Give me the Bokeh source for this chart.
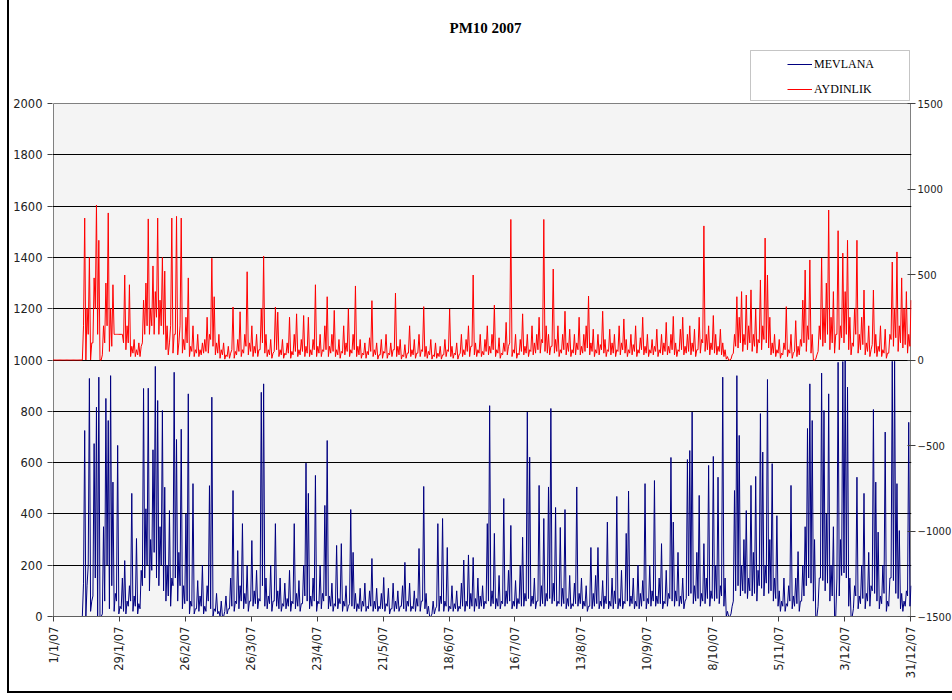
import numpy as np
from bokeh.plotting import figure
from bokeh.models import (Range1d, LinearAxis, FixedTicker, Label, Legend,
                          LegendItem, BoxAnnotation)
from bokeh.embed import file_html
from bokeh.resources import INLINE

title_text = "PM10 2007"
series_names = ["MEVLANA", "AYDINLIK"]
tick_days = [0, 28, 56, 84, 112, 140, 168, 196, 224, 252, 280, 308, 336, 364]
tick_labels = ["1/1/07", "29/1/07", "26/2/07", "26/3/07", "23/4/07", "21/5/07",
               "18/6/07", "16/7/07", "13/8/07", "10/9/07", "8/10/07", "5/11/07",
               "3/12/07", "31/12/07"]
left_ticks = [0, 200, 400, 600, 800, 1000, 1200, 1400, 1600, 1800, 2000]
right_ticks = [-1500, -1000, -500, 0, 500, 1000, 1500]

# MEVLANA, left axis: daily peak and daily trough, day 0 = 1 Jan 2007
mevlana_high = [
    0, 0, 0, 0, 0, 0, 0, 0, 0, 0,
    0, 0, 0, 725, 120, 928, 60, 674, 816, 933,
    0, 350, 850, 764, 939, 524, 90, 667, 40, 150,
    218, 60, 120, 480, 80, 304, 50, 180, 889, 420,
    890, 300, 650, 975, 842, 350, 803, 504, 200, 413,
    150, 952, 690, 250, 730, 120, 400, 868, 60, 518,
    30, 140, 80, 200, 40, 120, 510, 855, 30, 90,
    20, 60, 0, 80, 30, 150, 491, 60, 257, 120,
    362, 90, 200, 60, 296, 100, 180, 70, 874, 907,
    150, 80, 200, 60, 362, 100, 150, 50, 130, 70,
    180, 60, 362, 90, 140, 50, 200, 598, 480, 80,
    150, 550, 60, 200, 90, 433, 686, 80, 130, 50,
    277, 70, 284, 60, 120, 40, 417, 250, 90, 50,
    110, 60, 130, 40, 100, 226, 60, 110, 40, 90,
    152, 50, 110, 30, 130, 60, 100, 40, 120, 211,
    60, 130, 40, 100, 70, 265, 60, 507, 90, 40,
    0, 60, 30, 362, 80, 382, 60, 269, 40, 120,
    50, 100, 40, 130, 220, 60, 240, 90, 230, 70,
    150, 80, 120, 60, 362, 822, 100, 324, 70, 160,
    60, 460, 100, 180, 355, 60, 140, 70, 200, 309,
    90, 797, 621, 80, 150, 60, 511, 120, 382, 90,
    505, 811, 130, 425, 60, 347, 110, 417, 70, 160,
    50, 130, 505, 90, 150, 60, 120, 40, 269, 90,
    160, 269, 60, 140, 80, 368, 60, 150, 100, 468,
    70, 180, 60, 324, 489, 80, 150, 60, 200, 90,
    140, 518, 70, 200, 100, 530, 80, 150, 284, 60,
    180, 90, 620, 368, 100, 250, 80, 150, 60, 612,
    647, 797, 120, 250, 472, 90, 284, 150, 589, 100,
    624, 200, 543, 120, 933, 150, 20, 0, 40, 491,
    939, 706, 200, 300, 413, 150, 511, 250, 546, 180,
    791, 641, 200, 924, 300, 596, 150, 393, 100, 60,
    150, 50, 120, 511, 80, 150, 253, 60, 200, 350,
    733, 907, 764, 300, 0, 150, 949, 803, 400, 868,
    200, 350, 0, 991, 300, 994, 998, 894, 150, 0,
    120, 543, 80, 200, 480, 90, 250, 120, 807, 524,
    329, 80, 200, 719, 60, 150, 995, 995, 518, 335,
    90, 60, 100, 757, 120,
]
mevlana_low = [
    0, 0, 0, 0, 0, 0, 0, 0, 0, 0,
    0, 0, 0, 130, 0, 200, 20, 80, 150, 0,
    0, 10, 60, 200, 30, 120, 20, 60, 10, 30,
    20, 10, 40, 60, 20, 40, 10, 30, 120, 150,
    200, 100, 180, 250, 150, 120, 200, 100, 60, 80,
    40, 120, 150, 60, 120, 30, 50, 60, 10, 40,
    10, 30, 20, 40, 10, 20, 60, 30, 0, 20,
    10, 0, 0, 20, 10, 30, 40, 20, 50, 30,
    60, 30, 50, 20, 60, 40, 50, 30, 60, 120,
    40, 30, 50, 20, 60, 40, 30, 20, 40, 30,
    40, 20, 50, 30, 40, 20, 50, 80, 60, 30,
    40, 60, 20, 50, 30, 60, 80, 30, 40, 20,
    40, 30, 50, 20, 40, 20, 50, 40, 30, 20,
    30, 20, 40, 20, 30, 40, 20, 30, 20, 30,
    30, 20, 40, 10, 30, 20, 30, 20, 40, 30,
    20, 40, 20, 30, 20, 40, 20, 60, 30, 10,
    0, 10, 10, 40, 20, 50, 20, 40, 20, 30,
    20, 30, 20, 30, 40, 20, 40, 30, 40, 20,
    40, 30, 40, 30, 50, 60, 40, 50, 30, 40,
    30, 50, 40, 50, 60, 30, 40, 30, 50, 40,
    40, 60, 70, 40, 50, 30, 60, 40, 50, 40,
    60, 70, 50, 60, 40, 50, 40, 50, 30, 40,
    30, 40, 50, 40, 50, 30, 40, 20, 40, 30,
    40, 50, 30, 40, 30, 50, 30, 40, 30, 50,
    30, 40, 30, 50, 60, 40, 50, 30, 40, 30,
    40, 60, 30, 50, 40, 60, 40, 50, 50, 30,
    50, 40, 70, 60, 40, 60, 40, 50, 30, 70,
    80, 90, 50, 60, 70, 40, 60, 50, 70, 40,
    70, 60, 70, 50, 80, 40, 0, 0, 10, 60,
    100, 120, 80, 100, 90, 70, 100, 80, 90, 60,
    120, 110, 80, 130, 90, 100, 60, 70, 40, 20,
    40, 20, 40, 60, 30, 40, 50, 20, 60, 80,
    120, 150, 130, 60, 0, 40, 150, 140, 100, 130,
    60, 80, 0, 150, 80, 160, 170, 150, 40, 0,
    30, 80, 30, 50, 70, 30, 60, 40, 100, 90,
    60, 30, 50, 90, 20, 40, 150, 140, 90, 70,
    30, 20, 40, 80, 40,
]

# AYDINLIK, right axis: daily peak and daily trough
aydinlik_high = [
    0, 0, 0, 0, 0, 0, 0, 0, 0, 0,
    0, 0, 0, 830, 300, 600, 100, 480, 906, 700,
    0, 200, 450, 860, 300, 440, 150, 150, 150, 150,
    497, 200, 440, 80, 120, 60, 100, 80, 350, 450,
    825, 300, 550, 400, 830, 350, 600, 520, 200, 100,
    830, 150, 840, 100, 830, 120, 250, 480, 80, 200,
    60, 150, 60, 100, 120, 250, 150, 595, 370, 100,
    150, 60, 100, 30, 80, 40, 310, 50, 120, 282,
    60, 150, 516, 100, 200, 80, 150, 60, 300, 608,
    150, 60, 120, 40, 310, 280, 60, 120, 40, 100,
    250, 50, 150, 270, 60, 120, 260, 80, 250, 60,
    120, 440, 80, 150, 60, 200, 370, 80, 150, 290,
    60, 120, 50, 200, 100, 300, 60, 150, 433, 80,
    120, 40, 100, 50, 130, 347, 60, 100, 30, 120,
    50, 150, 40, 100, 60, 391, 80, 120, 30, 90,
    40, 200, 60, 120, 40, 150, 60, 312, 80, 50,
    120, 30, 100, 40, 80, 30, 120, 60, 298, 80,
    40, 100, 30, 150, 60, 120, 200, 80, 497, 100,
    60, 150, 50, 120, 200, 80, 150, 321, 60, 130,
    40, 100, 220, 80, 822, 60, 150, 40, 120, 270,
    80, 150, 60, 200, 100, 150, 250, 120, 822, 200,
    150, 80, 532, 120, 200, 60, 150, 285, 100, 180,
    60, 150, 100, 250, 80, 150, 200, 374, 100, 180,
    60, 150, 90, 285, 120, 60, 180, 100, 150, 60,
    200, 100, 240, 120, 60, 150, 90, 200, 60, 130,
    250, 80, 150, 60, 120, 80, 180, 60, 150, 100,
    220, 80, 150, 255, 100, 60, 180, 250, 80, 150,
    200, 100, 180, 60, 250, 120, 784, 150, 200, 100,
    260, 150, 80, 180, 100, 60, 20, 0, 30, 150,
    370, 250, 400, 150, 380, 200, 410, 150, 300, 120,
    468, 200, 713, 497, 250, 100, 150, 60, 120, 40,
    100, 312, 60, 150, 40, 230, 80, 120, 350, 526,
    200, 585, 150, 0, 30, 200, 596, 300, 450, 877,
    250, 400, 150, 756, 200, 625, 400, 700, 250, 100,
    300, 700, 150, 250, 409, 100, 200, 60, 409, 150,
    80, 200, 60, 180, 40, 150, 573, 300, 632, 200,
    480, 300, 400, 150, 350,
]
aydinlik_low = [
    0, 0, 0, 0, 0, 0, 0, 0, 0, 0,
    0, 0, 0, 200, 0, 150, 0, 100, 300, 150,
    0, 30, 100, 200, 50, 80, 150, 150, 150, 150,
    100, 60, 100, 20, 40, 20, 30, 20, 100, 150,
    200, 150, 200, 150, 250, 150, 200, 150, 60, 30,
    200, 40, 150, 30, 200, 40, 60, 100, 20, 50,
    20, 40, 20, 30, 40, 50, 40, 120, 80, 30,
    40, 10, 30, 5, 20, 10, 60, 10, 30, 50,
    20, 40, 80, 30, 50, 20, 40, 20, 60, 100,
    40, 20, 30, 10, 50, 60, 20, 30, 10, 30,
    40, 10, 30, 50, 20, 30, 50, 20, 40, 20,
    30, 60, 20, 40, 20, 50, 60, 20, 40, 50,
    20, 30, 10, 40, 30, 50, 20, 40, 60, 20,
    30, 10, 30, 10, 30, 50, 20, 30, 5, 30,
    10, 40, 10, 30, 20, 60, 20, 30, 5, 20,
    10, 40, 20, 30, 10, 40, 20, 50, 20, 10,
    30, 5, 20, 10, 20, 5, 30, 20, 50, 20,
    10, 30, 5, 40, 20, 30, 50, 20, 80, 30,
    20, 40, 20, 30, 50, 30, 40, 60, 20, 40,
    10, 30, 50, 30, 100, 20, 40, 10, 30, 50,
    30, 40, 20, 50, 30, 40, 60, 40, 100, 50,
    40, 30, 80, 40, 50, 20, 40, 60, 30, 50,
    20, 40, 30, 60, 30, 40, 50, 70, 30, 50,
    20, 40, 30, 60, 40, 20, 50, 30, 40, 20,
    50, 30, 60, 40, 20, 40, 30, 50, 20, 40,
    60, 30, 40, 20, 40, 30, 50, 20, 40, 30,
    50, 30, 40, 60, 30, 20, 50, 60, 30, 40,
    50, 30, 50, 20, 60, 40, 100, 50, 60, 30,
    60, 40, 30, 50, 30, 20, 5, 0, 5, 40,
    80, 70, 100, 50, 90, 60, 100, 50, 80, 40,
    100, 60, 120, 100, 70, 30, 40, 20, 40, 10,
    30, 60, 20, 40, 10, 50, 20, 30, 80, 100,
    50, 120, 40, 0, 5, 50, 120, 80, 100, 150,
    60, 100, 40, 150, 60, 130, 100, 150, 60, 30,
    80, 150, 40, 60, 90, 30, 50, 20, 90, 40,
    20, 50, 20, 40, 10, 40, 120, 80, 130, 50,
    100, 70, 90, 40, 80,
]


def interleave(low, high):
    """Each day: trough in the first half of the day, peak in the second."""
    n = min(len(low), len(high))
    xs = np.empty(2 * n)
    ys = np.empty(2 * n)
    xs[0::2] = np.arange(n) - 0.25
    xs[1::2] = np.arange(n) + 0.25
    ys[0::2] = low[:n]
    ys[1::2] = high[:n]
    return xs, ys


xm, ym = interleave(mevlana_low, mevlana_high)
xa, ya = interleave(aydinlik_low, aydinlik_high)

TICK_FONT = "DejaVu Sans"
SERIF = "Liberation Serif"

# geometry (pixels)
FRAME_W, PLOT_H, FRAME_H = 859, 513, 616
px_per_day = (FRAME_W - 2) / (tick_days[-1] - tick_days[0])
pad_days = 1.0 / px_per_day
y_top = left_ticks[-1] * FRAME_H / PLOT_H
r_span = right_ticks[-1] - right_ticks[0]
r_top = right_ticks[0] + r_span * FRAME_H / PLOT_H

p = figure(frame_width=FRAME_W, frame_height=FRAME_H,
           x_range=Range1d(tick_days[0] - pad_days, tick_days[-1] + pad_days),
           y_range=Range1d(0, y_top),
           output_backend="svg", toolbar_location=None,
           min_border_left=43, min_border_right=38,
           min_border_top=0, min_border_bottom=75,
           background_fill_color="white", border_fill_color="white",
           outline_line_color=None,
           styles={"margin-left": "7px",
                   "border-left": "2px solid black",
                   "border-bottom": "2px solid black"})
p.extra_y_ranges = {"right": Range1d(right_ticks[0], r_top)}

# plot area (grey panel with grey outline)
p.quad(left=[tick_days[0]], right=[tick_days[-1]], bottom=[left_ticks[0]],
       top=[left_ticks[-1]], fill_color="#F4F4F4", line_color="#808080",
       line_width=1, level="image")

r_blue = p.line(xm, ym, line_color="#000080", line_width=1)
r_red = p.line(xa, ya, line_color="#FF0000", line_width=1,
               y_range_name="right")

right_axis = LinearAxis(y_range_name="right", ticker=FixedTicker(ticks=right_ticks))
p.add_layout(right_axis, "right")

p.xgrid.visible = False
p.ygrid.ticker = FixedTicker(ticks=left_ticks[1:-1])
p.ygrid.grid_line_color = "black"
p.ygrid.grid_line_width = 1

p.yaxis[0].ticker = FixedTicker(ticks=left_ticks)
p.xaxis.ticker = FixedTicker(ticks=tick_days)
p.xaxis.major_label_overrides = {d: l for d, l in zip(tick_days, tick_labels)}
p.xaxis.major_label_orientation = np.pi / 2

for ax in [p.xaxis[0], p.yaxis[0], right_axis]:
    ax.major_tick_line_color = "#404040"
    ax.minor_tick_line_color = None
    ax.major_label_text_font = TICK_FONT
    ax.major_label_text_font_size = "11.5px"
    ax.major_label_text_color = "#222222"
    ax.major_tick_out = 5
    ax.major_tick_in = 0
    ax.major_label_standoff = 5
p.xaxis[0].axis_line_color = "#606060"
p.yaxis[0].axis_line_color = None
right_axis.axis_line_color = None
right_axis.major_tick_in = 4
right_axis.major_tick_out = 4
right_axis.major_label_standoff = 2
right_axis.major_label_text_font_size = "10px"

# legend box and legend
box = BoxAnnotation(left=698, right=857, bottom=516, top=566,
                    left_units="screen", right_units="screen",
                    bottom_units="screen", top_units="screen",
                    fill_color="white", fill_alpha=1.0,
                    line_color="#404040", line_width=1)
p.add_layout(box)

legend = Legend(items=[LegendItem(label=series_names[0], renderers=[r_blue]),
                       LegendItem(label=series_names[1], renderers=[r_red])],
                location=(735, 517), padding=0, margin=0, spacing=5,
                glyph_width=25, glyph_height=20, label_height=20,
                label_standoff=2, border_line_color=None,
                background_fill_alpha=0.0,
                label_text_font=SERIF, label_text_font_size="12px",
                label_text_color="black")
p.add_layout(legend)

title = Label(x=433, y=589, x_units="screen", y_units="screen",
              text=title_text, text_align="center", text_baseline="middle",
              text_font=SERIF, text_font_style="bold", text_font_size="15px",
              text_color="black")
p.add_layout(title)

open("out.html", "w").write(file_html(p, INLINE))
